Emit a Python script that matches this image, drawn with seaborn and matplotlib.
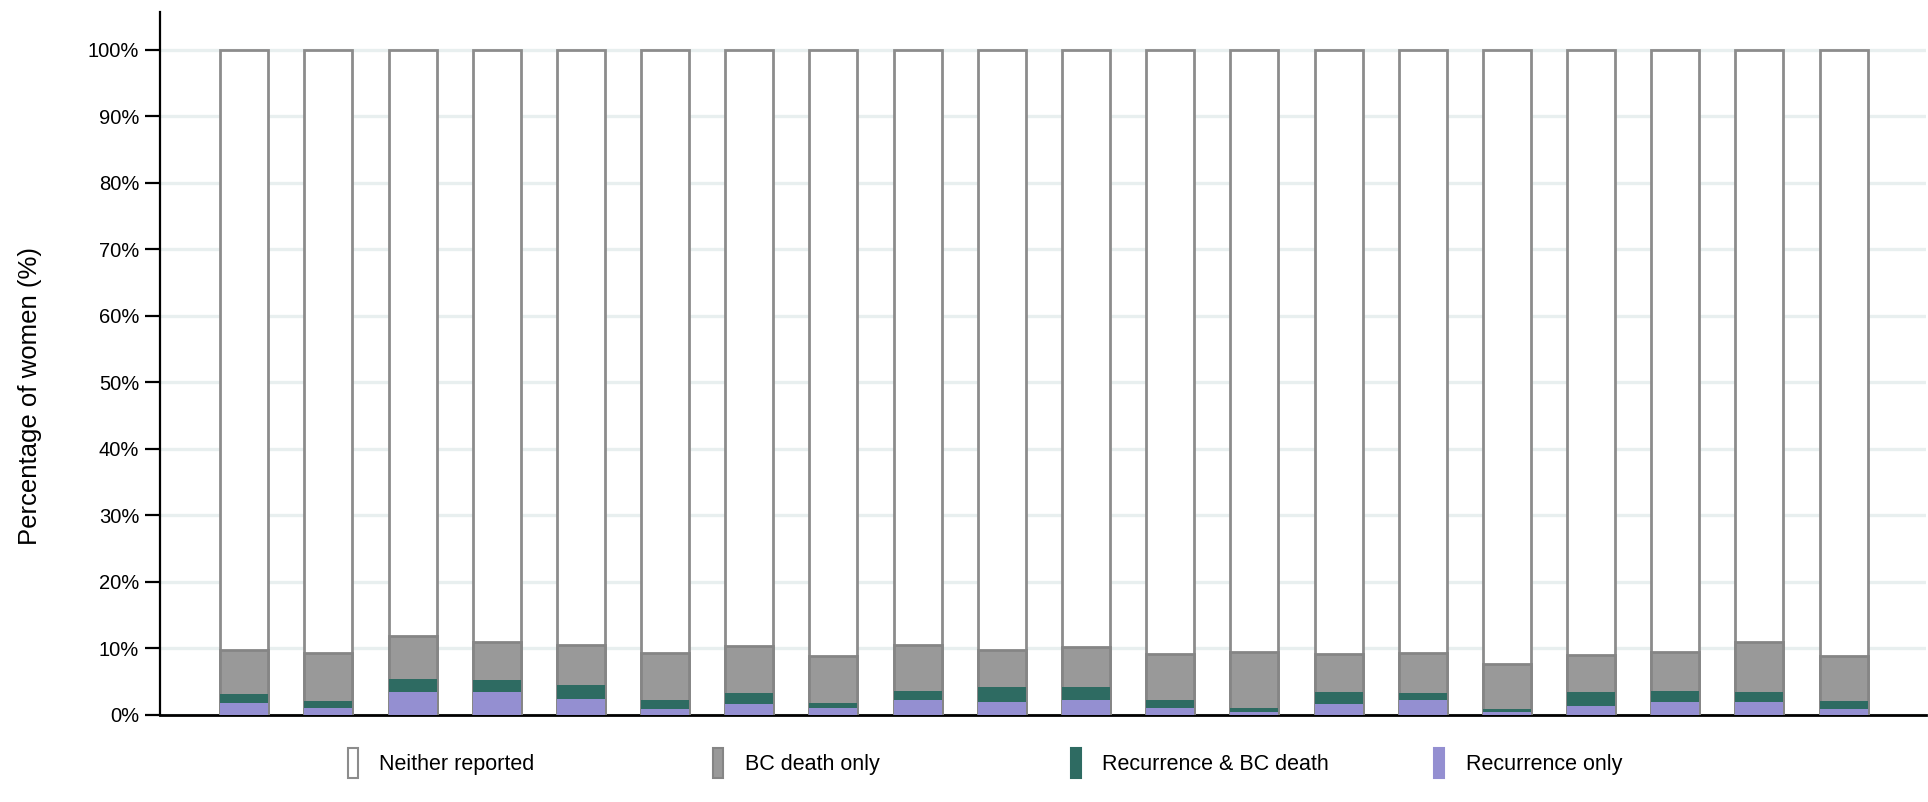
import matplotlib
matplotlib.use("Agg")
import matplotlib.pyplot as plt
import matplotlib.patches as mpatches
import seaborn as sns
import pandas as pd
import numpy as np

# Outcome shares (%) for each of the 20 groups
groups = [str(i) for i in range(1, 21)]
recurrence_only = [1.8, 1.1, 3.5, 3.5, 2.4, 0.9, 1.7, 1.1, 2.3, 2.0,
                   2.3, 1.1, 0.5, 1.7, 2.2, 0.4, 1.4, 1.9, 1.9, 0.9]
recurrence_and_death = [1.3, 1.0, 1.9, 1.7, 2.1, 1.3, 1.6, 0.7, 1.3, 2.2,
                        1.9, 1.2, 0.6, 1.8, 1.1, 0.5, 2.1, 1.7, 1.6, 1.2]
death_only = [6.7, 7.2, 6.5, 5.7, 6.0, 7.1, 7.1, 7.0, 6.9, 5.5,
              6.0, 6.9, 8.3, 5.7, 6.0, 6.7, 5.5, 5.8, 7.5, 6.7]

series_names = ["Neither reported", "BC death only",
                "Recurrence & BC death", "Recurrence only"]
y_ticks = list(range(0, 101, 10))
y_tick_labels = [f"{t}%" for t in y_ticks]

df = pd.DataFrame({
    "group": groups,
    "recurrence_only": recurrence_only,
    "recurrence_and_death": recurrence_and_death,
    "death_only": death_only,
})
df["neither"] = 100 - df["recurrence_only"] - df["recurrence_and_death"] - df["death_only"]

# Cumulative tops, drawn from the tallest layer down so each sits on the next
df["cum_purple"] = df["recurrence_only"]
df["cum_teal"] = df["cum_purple"] + df["recurrence_and_death"]
df["cum_gray"] = df["cum_teal"] + df["death_only"]
df["cum_white"] = df["cum_gray"] + df["neither"]

sns.set_style("white")
plt.rcParams["font.family"] = ["Liberation Sans", "DejaVu Sans"]
plt.rcParams["text.color"] = "black"
plt.rcParams["axes.labelcolor"] = "black"

fig = plt.figure(figsize=(19.28, 8.02), dpi=100)
ax = fig.add_axes([0.083, 0.1085, 0.916, 0.8765])

bar_w = 0.57
layers = [
    ("cum_white", "#ffffff", "#8c8c8c", 2.0),
    ("cum_gray", "#999999", "#858585", 2.0),
    ("cum_teal", "#2e6b62", "none", 0),
    ("cum_purple", "#948fd1", "none", 0),
]
for col, face, edge, lw in layers:
    sns.barplot(data=df, x="group", y=col, color=face, saturation=1,
                width=bar_w, edgecolor=edge, linewidth=lw, ax=ax, zorder=3)

ax.set_xlim(-1, 19.98)
ax.set_ylim(0, 105.7)
ax.set_yticks(y_ticks)
ax.set_yticklabels(y_tick_labels, fontsize=14.5)
ax.set_xticks([])
ax.set_xlabel("")
ax.set_ylabel("Percentage of women (%)", fontsize=18.5, color="black")
ax.yaxis.set_label_coords(-0.0668, 0.454)

ax.grid(axis="y", color="#e8efef", linewidth=2.4, zorder=0)
ax.grid(axis="x", visible=False)
ax.set_axisbelow(True)

for side in ["top", "right"]:
    ax.spines[side].set_visible(False)
ax.spines["left"].set_color("black")
ax.spines["left"].set_linewidth(1.6)
ax.spines["bottom"].set_color("black")
ax.spines["bottom"].set_linewidth(2.0)
ax.tick_params(axis="y", which="major", left=True, length=11, width=1.6,
               color="black", pad=4, labelcolor="black")

# Legend entries laid out along the bottom
legend_styles = [
    ("#ffffff", "#8c8c8c"),
    ("#999999", "#858585"),
    ("#2e6b62", "#2e6b62"),
    ("#948fd1", "#948fd1"),
]
legend_x = [0.1805, 0.370, 0.5555, 0.744]
for name, (face, edge), lx in zip(series_names, legend_styles, legend_x):
    handle = mpatches.Patch(facecolor=face, edgecolor=edge, linewidth=1.5, label=name)
    fig.legend(handles=[handle], loc="center left", bbox_to_anchor=(lx, 0.0486),
               frameon=False, fontsize=15.5, handlelength=0.45, handleheight=1.8,
               handletextpad=1.0, borderpad=0, borderaxespad=0,
               labelcolor="black")

fig.savefig("out.png", dpi=100)
